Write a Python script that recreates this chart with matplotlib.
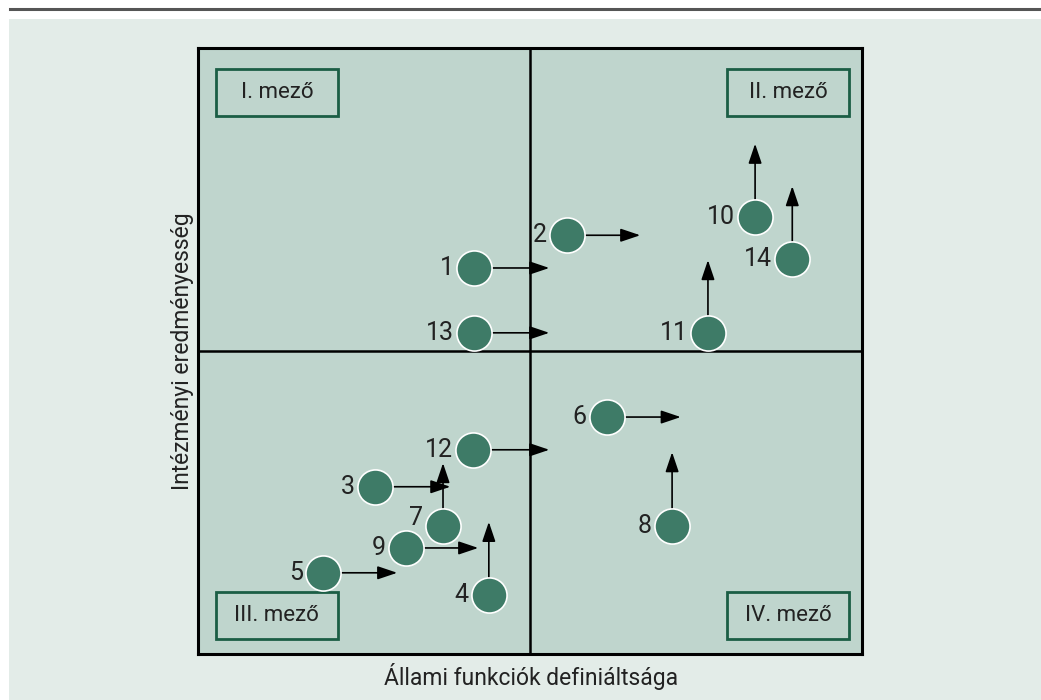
import matplotlib
matplotlib.use("Agg")
import matplotlib.pyplot as plt
from matplotlib.patches import Rectangle
from matplotlib.lines import Line2D

plt.rcParams['font.family'] = ['Liberation Sans Narrow', 'Roboto', 'DejaVu Sans']

# point positions (0-100 scale on both axes) and where each arrow points to
labels = ["1", "2", "3", "4", "5", "6", "7", "8", "9", "10", "11", "12", "13", "14"]
x_start = [41.6, 55.6, 26.7, 43.8, 18.8, 61.6, 36.9, 71.4, 31.3, 83.9, 76.8, 41.4, 41.6, 89.5]
y_start = [63.7, 69.1, 27.6, 9.7, 13.4, 39.1, 21.1, 21.1, 17.5, 72.1, 53.0, 33.7, 53.0, 65.2]
x_end = [52.9, 66.6, 38.0, 43.8, 30.0, 72.7, 36.9, 71.4, 42.2, 83.9, 76.8, 52.9, 52.9, 89.5]
y_end = [63.7, 69.1, 27.6, 21.8, 13.4, 39.1, 31.5, 33.3, 17.5, 84.2, 65.0, 33.7, 53.0, 77.2]

quadrants = ["I. mező", "II. mező", "III. mező", "IV. mező"]
xlabel = "Állami funkciók definiáltsága"
ylabel = "Intézményi eredményesség"

outer_bg = "#e3ece8"
inner_bg = "#bfd5cd"
dot_color = "#3e7b67"
box_edge = "#1b5e45"
text_color = "#222222"

W, H = 1041, 700
fig = plt.figure(figsize=(W / 100, H / 100), dpi=100)
fig.patch.set_facecolor("white")

# light background panel and the rule on top
fig.add_artist(Rectangle((9 / W, 0), 1 - 9 / W, (H - 19) / H,
                         transform=fig.transFigure, facecolor=outer_bg,
                         edgecolor="none", zorder=0))
fig.add_artist(Line2D([10 / W, 1], [1 - 8.5 / H, 1 - 8.5 / H],
                      transform=fig.transFigure, color="#555555", lw=2.2))

ax = fig.add_axes([198 / W, 46 / H, 664 / W, 606 / H])
ax.set_facecolor(inner_bg)
ax.set_xlim(0, 100)
ax.set_ylim(0, 100)
ax.set_xticks([])
ax.set_yticks([])
for sp in ax.spines.values():
    sp.set_linewidth(2.2)
    sp.set_color("black")

ax.axvline(50, color="black", lw=1.8, zorder=1)
ax.axhline(50, color="black", lw=1.8, zorder=1)

# quadrant label boxes
bw, bh = 122 / 664, 47 / 606
box_pos = [(0.027, 0.965 - bh), (0.797, 0.965 - bh), (0.027, 0.025), (0.797, 0.025)]
for name, (bx, by) in zip(quadrants, box_pos):
    ax.add_patch(Rectangle((bx, by), bw, bh, transform=ax.transAxes,
                           facecolor="none", edgecolor=box_edge, lw=2.0, zorder=2))
    ax.text(bx + bw / 2, by + bh / 2, name, transform=ax.transAxes,
            ha="center", va="center", fontsize=16, color=text_color, zorder=3)

# arrows first, circles on top
for x0, y0, x1, y1 in zip(x_start, y_start, x_end, y_end):
    ax.annotate("", xy=(x1, y1), xytext=(x0, y0),
                arrowprops=dict(arrowstyle="-|>,head_length=0.8,head_width=0.27",
                                mutation_scale=15, color="black", lw=1.2,
                                shrinkA=0, shrinkB=0),
                zorder=3)

ax.scatter(x_start, y_start, s=640, color=dot_color, edgecolor="white",
           linewidth=1.2, zorder=4)

for lab, x0, y0 in zip(labels, x_start, y_start):
    dy = 6 if lab == "7" else 0
    ax.annotate(lab, xy=(x0, y0), xytext=(-14.5, dy), textcoords="offset points",
                ha="right", va="center", fontsize=18, color=text_color, zorder=5)

fig.text(531 / W, (H - 676) / H, xlabel, ha="center", va="center",
         fontsize=16.5, color=text_color)
fig.text(182 / W, (H - 351) / H, ylabel, ha="center", va="center",
         rotation=90, fontsize=16.5, color=text_color)

fig.savefig("out.png", dpi=100, facecolor=fig.get_facecolor())
